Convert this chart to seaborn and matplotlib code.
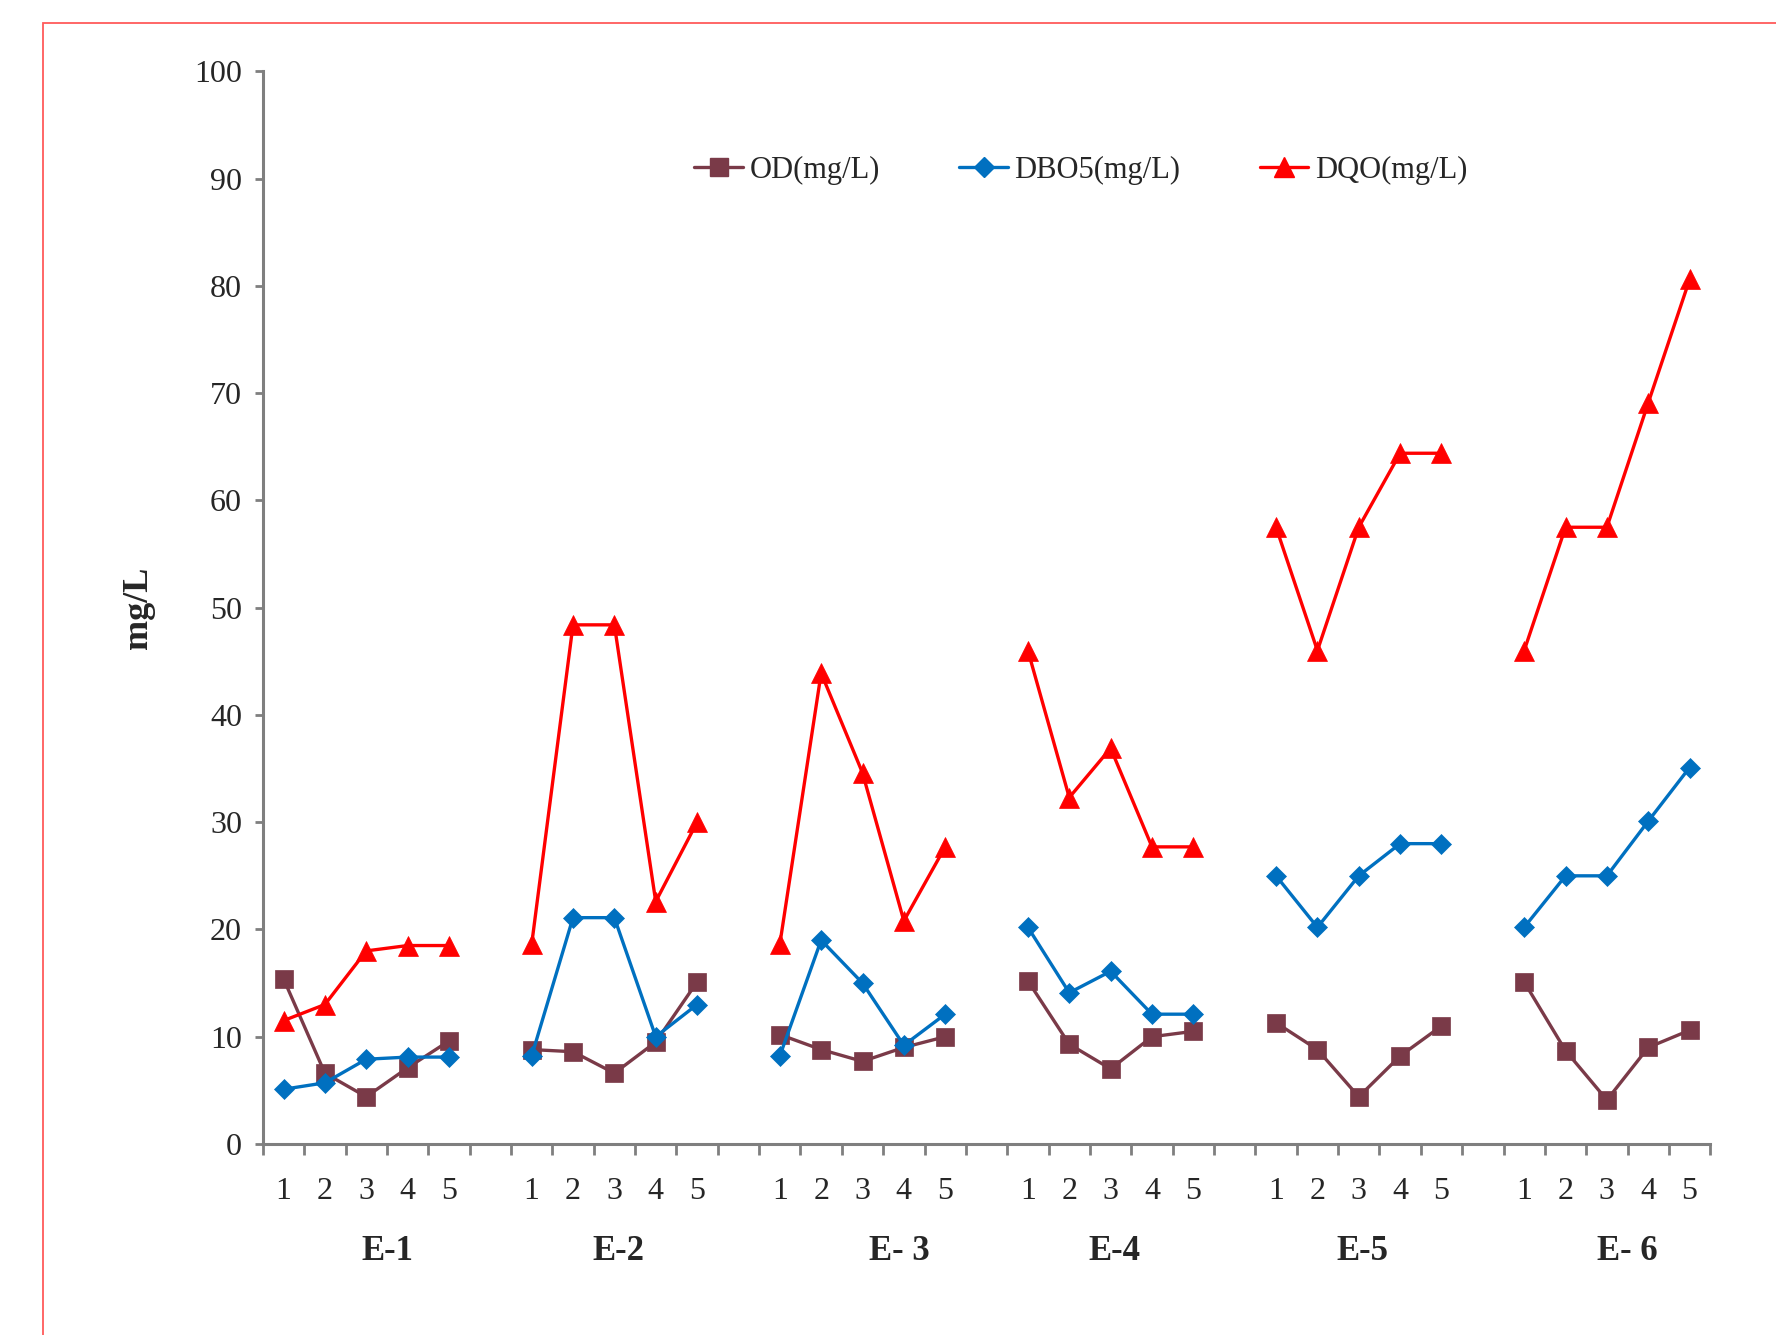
import numpy as np
import pandas as pd
import matplotlib
matplotlib.use("Agg")
import matplotlib.pyplot as plt
import seaborn as sns
from matplotlib.lines import Line2D
from matplotlib.patches import Rectangle
from matplotlib.ticker import FixedLocator

# Sampling stations and the five samples taken at each
stations = ["E-1", "E-2", "E- 3", "E-4", "E-5", "E- 6"]
samples = [1, 2, 3, 4, 5]

# Dissolved oxygen (mg/L), station by station
od = [15.4, 6.6, 4.4, 7.1, 9.6,
      8.8, 8.6, 6.6, 9.5, 15.1,
      10.2, 8.8, 7.7, 9.0, 10.0,
      15.2, 9.3, 7.0, 10.0, 10.5,
      11.3, 8.8, 4.4, 8.2, 11.0,
      15.1, 8.7, 4.1, 9.0, 10.6]

# Biochemical oxygen demand, 5 days (mg/L)
dbo5 = [5.1, 5.7, 7.9, 8.1, 8.1,
        8.2, 21.1, 21.1, 10.0, 13.0,
        8.2, 19.0, 15.0, 9.2, 12.1,
        20.2, 14.1, 16.1, 12.1, 12.1,
        25.0, 20.2, 25.0, 28.0, 28.0,
        20.2, 25.0, 25.0, 30.1, 35.1]

# Chemical oxygen demand (mg/L)
dqo = [11.5, 13.0, 18.0, 18.5, 18.5,
       18.6, 48.4, 48.4, 22.6, 30.0,
       18.6, 43.9, 34.6, 20.8, 27.7,
       46.0, 32.3, 36.9, 27.7, 27.7,
       57.5, 46.0, 57.5, 64.4, 64.4,
       46.0, 57.5, 57.5, 69.1, 80.6]

series_names = ["OD(mg/L)", "DBO5(mg/L)", "DQO(mg/L)"]
series_values = [od, dbo5, dqo]

# Long-form table; each station is a block of five slots followed by an empty slot
rows = []
for name, vals in zip(series_names, series_values):
    for g, st in enumerate(stations):
        for k, s in enumerate(samples):
            rows.append({"series": name, "station": st, "sample": s,
                         "pos": g * 6 + k, "value": vals[g * 5 + k]})
df = pd.DataFrame(rows)

sns.set_style("ticks")
plt.rcParams["font.family"] = ["Liberation Serif", "DejaVu Serif"]

styles = {
    "OD(mg/L)":   dict(color="#7A3A48", marker="s", markersize=13),
    "DBO5(mg/L)": dict(color="#0070C0", marker="D", markersize=10),
    "DQO(mg/L)":  dict(color="#FF0000", marker="^", markersize=14),
}

fig = plt.figure(figsize=(17.76, 13.35), dpi=100)
ax = fig.add_axes([0.148, 0.1431, 0.815, 0.8034])

for name in series_names:
    st = styles[name]
    sns.lineplot(data=df[df["series"] == name], x="pos", y="value",
                 units="station", estimator=None, ax=ax,
                 color=st["color"], marker=st["marker"],
                 markersize=st["markersize"], markeredgecolor=st["color"],
                 markeredgewidth=0.5, linewidth=2.4, legend=False)

ax.set_xlim(-0.5, 34.5)
ax.set_ylim(0, 100)
ax.set_yticks(np.arange(0, 101, 10))

# Sample numbers under each slot, tick marks between slots
tick_pos = df.drop_duplicates("pos")["pos"].to_numpy()
tick_lab = [str(s) for s in df.drop_duplicates("pos")["sample"]]
ax.set_xticks(tick_pos, tick_lab)
ax.xaxis.set_minor_locator(FixedLocator(np.arange(-0.5, 35.0, 1.0)))

axis_grey = "#7F7F7F"
ax.tick_params(axis="x", which="major", length=0, pad=24, labelsize=23)
ax.tick_params(axis="x", which="minor", length=8, width=2, color=axis_grey,
               direction="out")
ax.tick_params(axis="y", which="major", length=6, width=2, color=axis_grey,
               direction="out", pad=9, labelsize=23)

for side in ["top", "right"]:
    ax.spines[side].set_visible(False)
for side in ["left", "bottom"]:
    ax.spines[side].set_color(axis_grey)
    ax.spines[side].set_linewidth(2.2)

ax.set_xlabel("")
ax.set_ylabel("mg/L", fontsize=26, fontweight="bold", labelpad=28)

# Station names below the sample numbers
station_x = [2.5, 8.1, 14.9, 20.1, 26.1, 32.5]
for st, x in zip(stations, station_x):
    ax.text(x, -0.1, st, transform=ax.get_xaxis_transform(),
            ha="center", va="center", fontsize=25, fontweight="bold")

handles = [Line2D([], [], color=styles[n]["color"], marker=styles[n]["marker"],
                  markersize=styles[n]["markersize"],
                  markeredgecolor=styles[n]["color"], linewidth=2.4)
           for n in series_names]
ax.legend(handles, series_names, ncol=3, frameon=False, fontsize=22,
          loc="center", bbox_to_anchor=(0.565, 0.908),
          handlelength=1.6, handletextpad=0.2, columnspacing=2.6)

# Thin red frame around the chart area
fig.patches.append(Rectangle((43 / 1776, -0.05), 1.2, 1 - 23 / 1335 + 0.05,
                             transform=fig.transFigure, fill=False,
                             edgecolor="#FF5A5A", linewidth=1.3))

fig.savefig("out.png", dpi=100)
